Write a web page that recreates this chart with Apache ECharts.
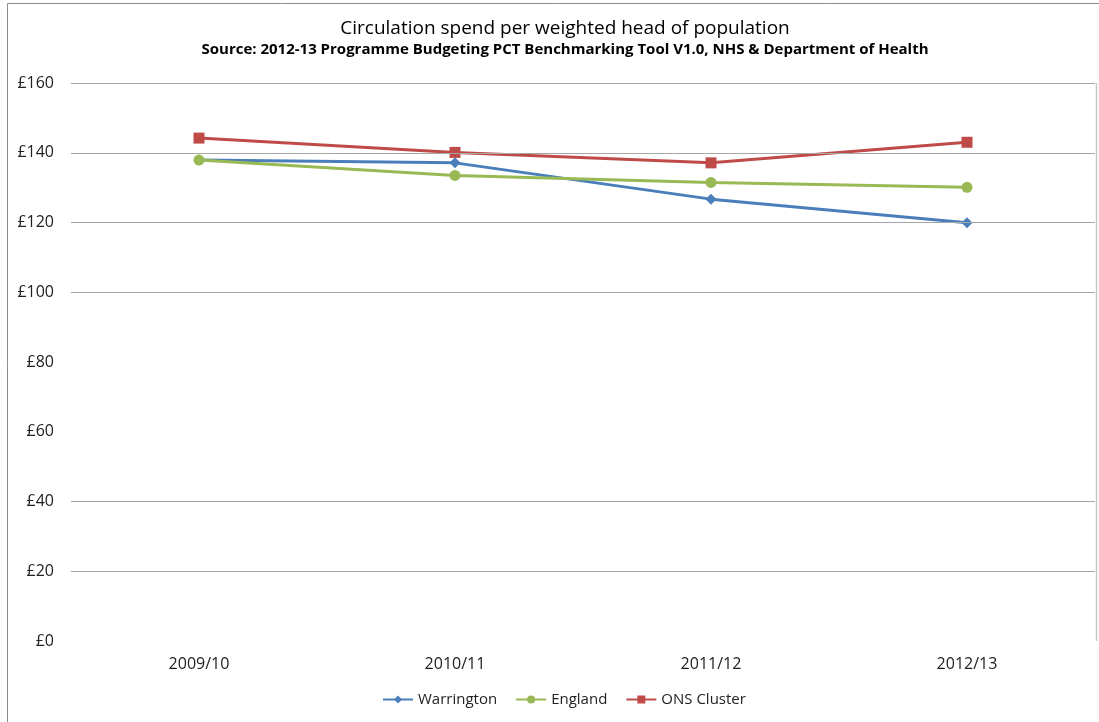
<!DOCTYPE html>
<html>
<head>
<meta charset="utf-8">
<script src="https://cdn.jsdelivr.net/npm/echarts@6/dist/echarts.min.js"></script>
<style>
  html, body { margin: 0; padding: 0; background: #fff; }
  #main { width: 1099px; height: 722px; }
</style>
</head>
<body>
<div id="main"></div>
<script>
// data
const years = ['2009/10', '2010/11', '2011/12', '2012/13']
const warrington = [137.9, 137.1, 126.7, 119.9]
const england = [137.9, 133.5, 131.5, 130.1]
const onsCluster = [144.2, 140.1, 137.1, 143.0]
// gridlines visible in the reference (none at £0, £60, £80)
const gridValues = [20, 40, 100, 120, 140, 160]

const font = '"Open Sans", "Noto Sans", sans-serif'
const chart = echarts.init(document.getElementById('main'))

chart.setOption({
  animation: false,
  textStyle: { fontFamily: font },
  title: {
    text: 'Circulation spend per weighted head of population',
    subtext: 'Source: 2012-13 Programme Budgeting PCT Benchmarking Tool V1.0, NHS & Department of Health',
    left: 560,
    textAlign: 'center',
    top: 14,
    itemGap: 4,
    textStyle: { fontFamily: font, fontSize: 19, fontWeight: 'normal', color: '#000' },
    subtextStyle: { fontFamily: font, fontSize: 15, fontWeight: 'bold', color: '#000' }
  },
  legend: {
    bottom: 10,
    left: 377,
    itemWidth: 30,
    itemHeight: 10,
    itemGap: 18,
    textStyle: { fontFamily: font, fontSize: 15, color: '#222' },
    data: ['Warrington', 'England', 'ONS Cluster']
  },
  grid: { left: 71, right: 4, top: 83, bottom: 81 },
  xAxis: {
    type: 'category',
    data: years,
    boundaryGap: true,
    axisLine: { show: false },
    axisTick: { show: false },
    axisLabel: { margin: 15, fontSize: 16, color: '#222', fontFamily: font }
  },
  yAxis: {
    type: 'value',
    min: 0,
    max: 160,
    interval: 20,
    axisLine: { show: false },
    axisTick: { show: false },
    axisLabel: { formatter: '£{value}', fontSize: 16, color: '#222', margin: 17, fontFamily: font },
    splitLine: { show: false }
  },
  series: [
    {
      name: 'grid',
      type: 'line',
      data: [],
      z: 1,
      silent: true,
      markLine: {
        silent: true,
        symbol: 'none',
        label: { show: false },
        lineStyle: { color: '#a6a6a6', width: 1, type: 'solid' },
        data: gridValues.map(v => ({ yAxis: v }))
      }
    },
    {
      name: 'Warrington',
      type: 'line',
      data: warrington,
      symbol: 'diamond',
      symbolSize: 11,
      color: '#4a7ebb',
      lineStyle: { width: 3 },
      z: 3
    },
    {
      name: 'England',
      type: 'line',
      data: england,
      symbol: 'circle',
      symbolSize: 11,
      color: '#98b954',
      lineStyle: { width: 3 },
      z: 3
    },
    {
      name: 'ONS Cluster',
      type: 'line',
      data: onsCluster,
      symbol: 'rect',
      symbolSize: 11,
      color: '#be4b48',
      lineStyle: { width: 3 },
      z: 3
    }
  ],
  graphic: [
    // chart frame (left and top edges) and plot right edge
    { type: 'line', shape: { x1: 7.5, y1: 3.5, x2: 7.5, y2: 722 }, style: { stroke: '#8c8c8c', lineWidth: 1 } },
    { type: 'line', shape: { x1: 7.5, y1: 3.5, x2: 1099, y2: 3.5 }, style: { stroke: '#8c8c8c', lineWidth: 1 } },
    { type: 'line', shape: { x1: 1096.5, y1: 83, x2: 1096.5, y2: 641 }, style: { stroke: '#c8c8c8', lineWidth: 1.5 } }
  ]
})
</script>
</body>
</html>
